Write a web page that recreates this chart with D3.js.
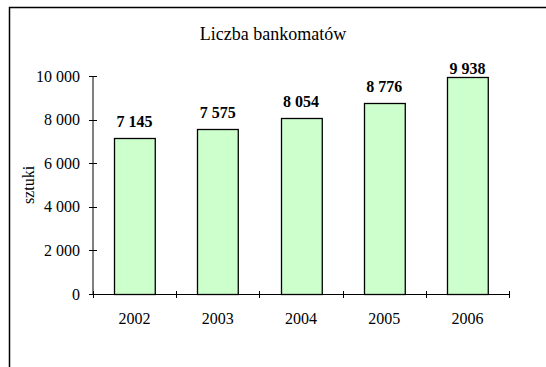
<!DOCTYPE html>
<html>
<head>
<meta charset="utf-8">
<script src="https://cdn.jsdelivr.net/npm/d3@7"></script>
<style>
  html, body { margin: 0; padding: 0; background: #fff; }
  svg { display: block; }
  text { font-family: "Liberation Serif", "Times New Roman", serif; fill: #000; }
</style>
</head>
<body>
<script>
// Number of ATMs per year
const years = ["2002", "2003", "2004", "2005", "2006"];
const atmCounts = [7145, 7575, 8054, 8776, 9938];
const yTicks = [0, 2000, 4000, 6000, 8000, 10000];
const titleText = "Liczba bankomatów";
const yAxisTitle = "sztuki";

const W = 546, H = 367;
const svg = d3.select("body").append("svg").attr("width", W).attr("height", H);

// chart frame
svg.append("rect")
  .attr("x", 9.5).attr("y", 7.5)
  .attr("width", 700).attr("height", 500)
  .attr("fill", "#fff").attr("stroke", "#000").attr("stroke-width", 1.5);

const plot = { left: 93, right: 509, top: 76, bottom: 294 };

const fmt = v => d3.format(",")(v).replace(/,/g, " ");

const x = d3.scaleBand().domain(years).range([plot.left, plot.right]).paddingInner(0.51).paddingOuter(0.255);
const xTicks = d3.scaleBand().domain(years).range([plot.left, plot.right]);
const y = d3.scaleLinear().domain([0, 10000]).range([plot.bottom, plot.top]);

// title
svg.append("text")
  .attr("x", 273).attr("y", 40)
  .attr("text-anchor", "middle")
  .attr("font-size", 18)
  .text(titleText);

// y axis title
svg.append("text")
  .attr("transform", `translate(34,${(plot.top + plot.bottom) / 2}) rotate(-90)`)
  .attr("text-anchor", "middle")
  .attr("font-size", 16)
  .text(yAxisTitle);

// bars
svg.append("g").selectAll("rect")
  .data(atmCounts)
  .join("rect")
  .attr("x", (d, i) => Math.round(x(years[i])) + 0.5)
  .attr("y", d => Math.round(y(d)) + 0.5)
  .attr("width", x.bandwidth())
  .attr("height", d => Math.round(y(0)) - Math.round(y(d)))
  .attr("fill", "#ccffcc")
  .attr("stroke", "#000")
  .attr("stroke-width", 1.3);

// y axis
const yAxis = svg.append("g").attr("transform", `translate(${plot.left},0)`);
yAxis.append("line")
  .attr("x1", 0).attr("x2", 0).attr("y1", y(10000)).attr("y2", y(0))
  .attr("stroke", "#000");
yAxis.selectAll("line.tick")
  .data(yTicks).join("line").attr("class", "tick")
  .attr("x1", -4).attr("x2", 4)
  .attr("y1", d => Math.round(y(d)) + 0.5).attr("y2", d => Math.round(y(d)) + 0.5)
  .attr("stroke", "#000");
yAxis.selectAll("text")
  .data(yTicks).join("text")
  .attr("x", -13).attr("y", d => y(d))
  .attr("dy", "0.35em")
  .attr("text-anchor", "end")
  .attr("font-size", 16)
  .text(d => fmt(d));

// x axis
const xAxis = svg.append("g");
xAxis.append("line")
  .attr("x1", plot.left).attr("x2", plot.right)
  .attr("y1", Math.round(y(0)) + 0.5).attr("y2", Math.round(y(0)) + 0.5)
  .attr("stroke", "#000");
const boundaries = years.map(d => xTicks(d)).concat([plot.right]);
xAxis.selectAll("line.tick")
  .data(boundaries).join("line").attr("class", "tick")
  .attr("x1", d => Math.round(d) + 0.5).attr("x2", d => Math.round(d) + 0.5)
  .attr("y1", y(0) - 3).attr("y2", y(0) + 4)
  .attr("stroke", "#000");
xAxis.selectAll("text")
  .data(years).join("text")
  .attr("x", d => xTicks(d) + xTicks.bandwidth() / 2)
  .attr("y", 324)
  .attr("text-anchor", "middle")
  .attr("font-size", 16)
  .text(d => d);

// value labels, kept inside the plot area
svg.append("g").selectAll("text")
  .data(atmCounts).join("text")
  .attr("x", (d, i) => x(years[i]) + x.bandwidth() / 2)
  .attr("y", d => Math.max(y(d) - 11, 74))
  .attr("text-anchor", "middle")
  .attr("font-size", 16)
  .attr("font-weight", "bold")
  .text(d => fmt(d));
</script>
</body>
</html>
